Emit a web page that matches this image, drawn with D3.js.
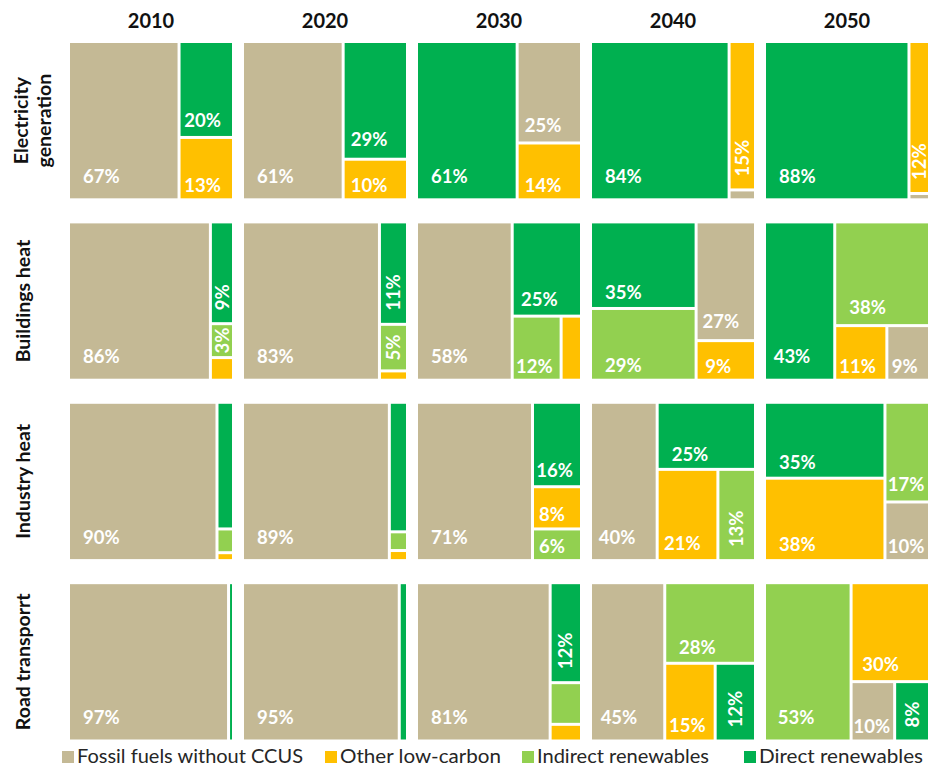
<!DOCTYPE html>
<html><head><meta charset="utf-8">
<script src="https://cdn.jsdelivr.net/npm/d3@7"></script>
<style>body{margin:0;background:#fff} text{font-family:Lato,"Open Sans",sans-serif}</style>
</head><body><svg id="chart" width="929" height="767"></svg>
<script>
// ---------- data ----------
const years = ["2010", "2020", "2030", "2040", "2050"];
const sectors = ["Electricity generation", "Buildings heat", "Industry heat", "Road transporrt"];
const sectorLines = [["Electricity", "generation"], ["Buildings heat"], ["Industry heat"], ["Road transporrt"]];
const categories = ["Fossil fuels without CCUS", "Other low-carbon", "Indirect renewables", "Direct renewables"];
const catKeys = ["F", "O", "I", "D"];
const catColors = ["#c4b995", "#ffc000", "#92d050", "#00b050"];

// shares (%) per sector (rows) and year (columns)
const fossil   = [[67, 61, 25, 1, 0.5], [86, 83, 58, 27, 9], [90, 89, 71, 40, 10], [97, 95, 81, 45, 10]];
const otherLow = [[13, 10, 14, 15, 12], [2, 1, 5, 9, 11], [0.5, 0.7, 8, 21, 38], [0, 0, 2, 15, 30]];
const indirect = [[0, 0, 0, 0, 0], [3, 5, 12, 29, 38], [1.5, 1.3, 6, 13, 17], [0, 0, 5, 28, 53]];
const direct   = [[20, 29, 61, 84, 88], [9, 11, 25, 35, 43], [8, 9, 16, 25, 35], [3, 5, 12, 12, 8]];

// grouping of each treemap: columns -> stacked rows -> (optional) side-by-side groups
const groupings = [
  [[["F"], ["D", "O"]], [["F"], ["D", "O"]], [["D"], ["F", "O"]], [["D"], ["O", "F"]], [["D"], ["O", "F"]]],
  [[["F"], ["D", "I", "O"]], [["F"], ["D", "I", "O"]], [["F"], ["D", ["I", "O"]]], [["D", "I"], ["F", "O"]], [["D"], ["I", ["O", "F"]]]],
  [[["F"], ["D", "I", "O"]], [["F"], ["D", "I", "O"]], [["F"], ["D", "O", "I"]], [["F"], ["D", ["O", "I"]]], [["D", "O"], ["I", "F"]]],
  [[["F"], ["D"]], [["F"], ["D"]], [["F"], ["D", "I", "O"]], [["F"], ["I", ["O", "D"]]], [["I"], ["O", ["F", "D"]]]]
];
const noLabel = ["2|0|D", "2|1|D", "3|2|I", "3|2|O", "1|2|O"];
const rotatedLabels = ["0|3|O", "0|4|O", "1|0|D", "1|0|I", "1|1|D", "1|1|I", "2|3|I", "3|2|D", "3|3|D", "3|4|D"];

// ---------- drawing ----------
const svg = d3.select("#chart");
svg.append("rect").attr("width", 929).attr("height", 767).attr("fill", "#fff");

const x = d3.scaleBand().domain(years).range([70, 928]).paddingInner(0.069).paddingOuter(0);
const y = d3.scaleBand().domain(sectors).range([43, 739.5]).paddingInner(0.139).paddingOuter(0);
const color = d3.scaleOrdinal().domain(catKeys).range(catColors);
const series = {F: fossil, O: otherLow, I: indirect, D: direct};

// year headers
svg.append("g").selectAll("text").data(years).join("text")
  .attr("x", d => x(d) + x.bandwidth() / 2).attr("y", 28)
  .attr("text-anchor", "middle").attr("font-size", 20).attr("font-weight", 700).attr("fill", "#111")
  .text(d => d);

// sector labels
sectors.forEach((s, si) => {
  const lines = sectorLines[si];
  const cy = y(s) + y.bandwidth() / 2;
  const base = lines.length === 2 ? [28, 51] : [30];
  lines.forEach((ln, li) => {
    svg.append("text")
      .attr("transform", `translate(${base[li]},${cy}) rotate(-90)`)
      .attr("text-anchor", "middle").attr("font-size", 19.5).attr("font-weight", 700).attr("fill", "#111")
      .text(ln);
  });
});

const leaf = (k, si, yi) => ({key: k, value: series[k][si][yi]});
function buildTree(layout, si, yi) {
  const cols = layout.map(col => ({
    children: col.map(item => Array.isArray(item)
      ? {children: item.map(k => leaf(k, si, yi)).filter(d => d.value > 0)}
      : leaf(item, si, yi)).filter(d => d.children ? d.children.length : d.value > 0)
  })).filter(c => c.children.length);
  return {children: cols};
}

const treemap = d3.treemap().tile(d3.treemapSliceDice)
  .size([x.bandwidth(), y.bandwidth()]).paddingInner(3).round(false);

const fs = 18.5;
sectors.forEach((s, si) => {
  years.forEach((yr, yi) => {
    const root = d3.hierarchy(buildTree(groupings[si][yi], si, yi)).sum(d => d.children ? 0 : d.value);
    treemap(root);
    const g = svg.append("g").attr("transform", `translate(${x(yr)},${y(s)})`);
    root.leaves().forEach(n => {
      g.append("rect").attr("x", n.x0).attr("y", n.y0)
        .attr("width", Math.max(0, n.x1 - n.x0)).attr("height", Math.max(0, n.y1 - n.y0))
        .attr("fill", color(n.data.key));
      const id = `${si}|${yi}|${n.data.key}`;
      if (noLabel.includes(id)) return;
      const w = n.x1 - n.x0, h = n.y1 - n.y0;
      const t = g.append("text").attr("font-size", fs).attr("font-weight", 700).attr("fill", "#fff")
        .text(Math.round(n.data.value) + "%");
      const tw = t.node().getComputedTextLength();
      if (!rotatedLabels.includes(id) && h >= 18 && tw <= w + 2) {
        const px = Math.max(1, Math.min(13, (w - tw) / 4));
        const pb = Math.max(6, Math.min(16, h * 0.1));
        t.attr("x", n.x0 + px).attr("y", n.y1 - pb);
      } else if (w >= 14 && h >= tw + 2) {
        const pb = Math.max(1, Math.min(12, (h - tw) / 2));
        t.attr("transform", `translate(${(n.x0 + n.x1) / 2 + fs * 0.36},${n.y1 - pb}) rotate(-90)`);
      } else {
        t.remove();
      }
    });
  });
});

// legend
const legX = [62, 325, 522, 744];
const legW = [226, 161, 172, 164];
const lg = svg.append("g").selectAll("g").data(categories).join("g")
  .attr("transform", (d, i) => `translate(${legX[i]},751)`);
lg.append("rect").attr("width", 12).attr("height", 12).attr("fill", (d, i) => catColors[i]);
lg.append("text").attr("x", 15).attr("y", 12).attr("font-size", 18.5).attr("fill", "#262626")
  .attr("textLength", (d, i) => legW[i]).attr("lengthAdjust", "spacingAndGlyphs").text(d => d);
</script></body></html>
